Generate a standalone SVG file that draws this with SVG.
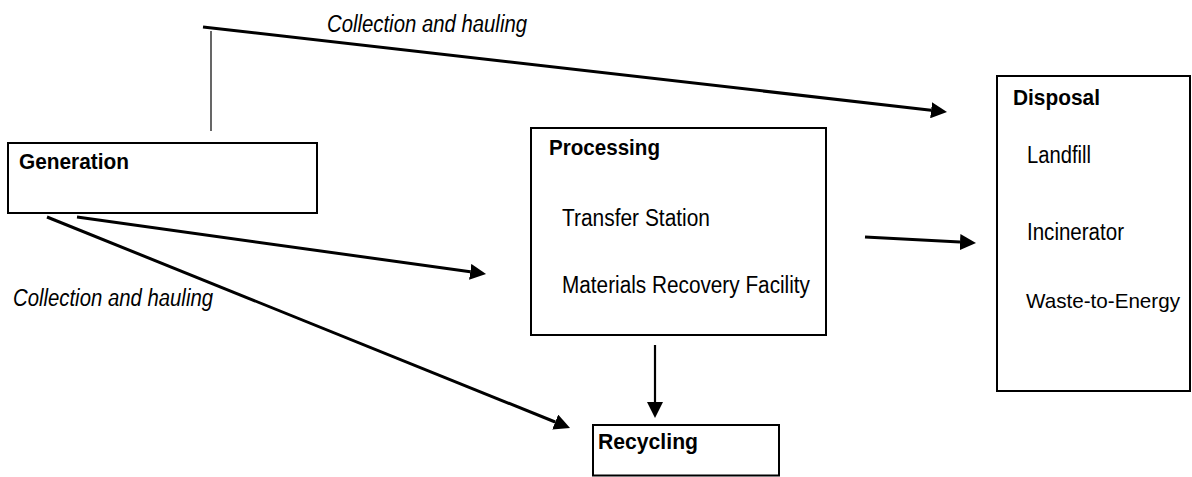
<svg xmlns="http://www.w3.org/2000/svg" width="1192" height="477" viewBox="0 0 1192 477">
  <style>
    .box { fill: #ffffff; stroke: #000000; stroke-width: 2; }
    .t { font-family: "Liberation Sans", Arial, sans-serif; font-size: 23px; fill: #000000; }
    .h { font-family: "Liberation Sans", Arial, sans-serif; font-size: 22px; font-weight: bold; fill: #000000; }
    .lbl { font-family: "Liberation Sans", Arial, sans-serif; font-size: 23px; font-style: italic; fill: #000000; }
    .conn { stroke: #000000; stroke-width: 3; fill: none; }
    .thin { stroke: #000000; stroke-width: 1.2; fill: none; }
  </style>
  <defs>
    <marker id="arrow" markerUnits="userSpaceOnUse" markerWidth="16" markerHeight="16" refX="0" refY="8" orient="auto">
      <path d="M0,0 L16,8 L0,16 Z" fill="#000000"/>
    </marker>
  </defs>
  <rect width="1192" height="477" fill="#ffffff"/>

  <g id="node-generation">
    <rect class="box" x="8" y="143" width="309" height="70"/>
    <text class="h" x="19" y="169" textLength="110" lengthAdjust="spacingAndGlyphs">Generation</text>
  </g>

  <g id="node-processing">
    <rect class="box" x="531" y="128" width="295" height="207"/>
    <text class="h" x="549" y="155" textLength="111" lengthAdjust="spacingAndGlyphs">Processing</text>
    <text class="t" x="562" y="226" textLength="148" lengthAdjust="spacingAndGlyphs">Transfer Station</text>
    <text class="t" x="562" y="293" textLength="248" lengthAdjust="spacingAndGlyphs">Materials Recovery Facility</text>
  </g>

  <g id="node-disposal">
    <rect class="box" x="997" y="76" width="193" height="315"/>
    <text class="h" x="1013" y="105" textLength="87" lengthAdjust="spacingAndGlyphs">Disposal</text>
    <text class="t" x="1027" y="163" textLength="64" lengthAdjust="spacingAndGlyphs">Landfill</text>
    <text class="t" x="1027" y="240" textLength="97" lengthAdjust="spacingAndGlyphs">Incinerator</text>
    <text class="t" x="1026" y="308" style="font-size:21px" textLength="154" lengthAdjust="spacingAndGlyphs">Waste-to-Energy</text>
  </g>

  <g id="node-recycling">
    <rect class="box" x="593" y="425" width="186" height="50.5"/>
    <text class="h" x="598" y="449" textLength="100" lengthAdjust="spacingAndGlyphs">Recycling</text>
  </g>

  <g id="connectors">
    <line class="thin" x1="211" y1="31" x2="211" y2="131"/>
    <line class="conn" x1="203" y1="27" x2="931.1" y2="110.2" marker-end="url(#arrow)"/>
    <line class="conn" x1="77" y1="217" x2="470.2" y2="271.8" marker-end="url(#arrow)"/>
    <line class="conn" x1="47" y1="217" x2="555.2" y2="422" marker-end="url(#arrow)"/>
    <line class="conn" x1="655" y1="345" x2="655" y2="402" style="stroke-width:2.2" marker-end="url(#arrow)"/>
    <line class="conn" x1="865" y1="237" x2="960" y2="242.1" marker-end="url(#arrow)"/>
    <text class="lbl" x="327" y="32" textLength="200" lengthAdjust="spacingAndGlyphs">Collection and hauling</text>
    <text class="lbl" x="13" y="306" textLength="200" lengthAdjust="spacingAndGlyphs">Collection and hauling</text>
  </g>
</svg>
